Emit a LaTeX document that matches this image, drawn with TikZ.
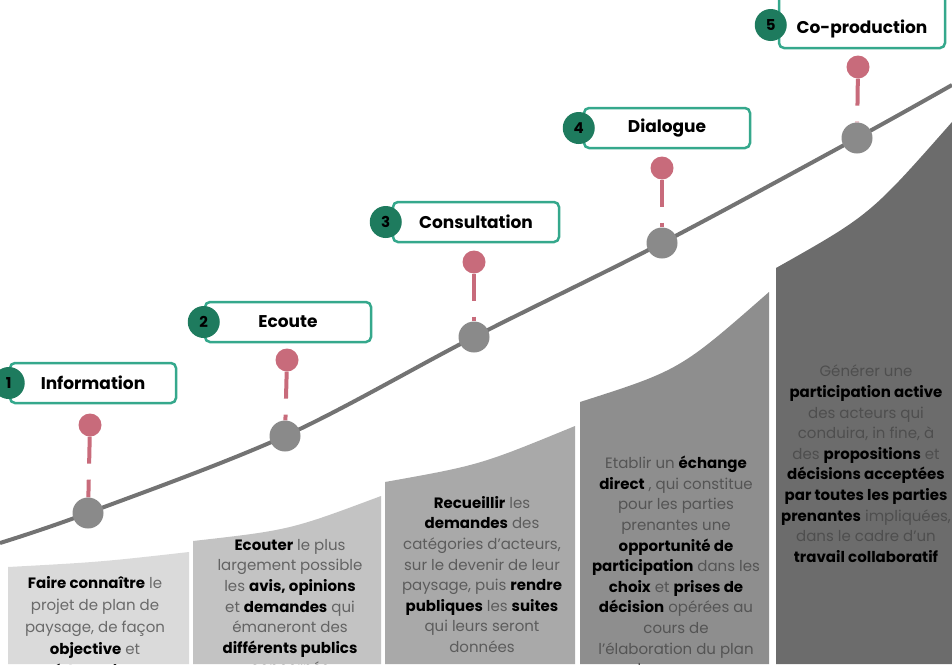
\documentclass[tikz,border=0pt]{standalone}
\usepackage{fontspec}
\setmainfont{Poppins}
\usetikzlibrary{positioning,backgrounds}
\definecolor{vert}{HTML}{1E7B5E}
\definecolor{turq}{HTML}{35A88C}
\definecolor{rose}{HTML}{C86B7B}
\definecolor{ligne}{HTML}{737373}
\definecolor{bille}{HTML}{8A8A8A}
\definecolor{fond1}{HTML}{DADADA}
\definecolor{fond2}{HTML}{C3C3C3}
\definecolor{fond3}{HTML}{A9A9A9}
\definecolor{fond4}{HTML}{8E8E8E}
\definecolor{fond5}{HTML}{6C6C6C}
\definecolor{gris1}{HTML}{6A6A6A}
\definecolor{gris2}{HTML}{636363}
\definecolor{gris3}{HTML}{5C5C5C}
\definecolor{gris4}{HTML}{545454}
\definecolor{gris5}{HTML}{4E4E4E}
\newcommand{\fort}[1]{\textbf{\color{black}#1}}

\begin{document}
\begin{tikzpicture}[x=1pt,y=-1pt,
    jalon/.style={fill=bille,circle,minimum size=31pt,inner sep=0pt},
    tete/.style={fill=rose,circle,minimum size=23pt,inner sep=0pt},
    etiq/.style={draw=turq,line width=2.5pt,fill=white,rounded corners=5pt,minimum width=166pt,minimum height=40pt,font=\fontsize{17}{20}\selectfont\bfseries},
    num/.style={fill=vert,circle,minimum size=32pt,inner sep=0pt,font=\fontsize{15}{18}\selectfont\bfseries},
    tige/.style={rose,line width=4pt,dash pattern=on 27pt off 16pt},
    txt/.style={anchor=north,align=center,inner sep=0pt,font=\fontsize{15}{20.6}\selectfont}]
  \useasboundingbox (0,0) rectangle (952,664);

  % jalons sur la courbe
  \node[jalon] (j1) at (88,513) {};
  \node[jalon] (j2) at (285,436) {};
  \node[jalon] (j3) at (474,337) {};
  \node[jalon] (j4) at (662,243) {};
  \node[jalon] (j5) at (857,138) {};
  \coordinate (debut) at (0,543);
  \coordinate (fin) at (952,85);

  \node[tete] (t1) at (90,425) {};
  \node[tete] (t2) at (287,360) {};
  \node[tete] (t3) at (474,262) {};
  \node[tete] (t4) at (662,168) {};
  \node[tete] (t5) at (858,67) {};

  % etiquettes
  \node[etiq] (e1) at (93,383) {Information};
  \node[etiq] (e2) at (288,322) {Ecoute};
  \node[etiq] (e3) at (476,222) {Consultation};
  \node[etiq] (e4) at (667,128) {Dialogue};
  \node[etiq,anchor=base,inner ysep=5pt,text height=42pt,text depth=10pt] (e5) at (862,33) {Co-production};
  \node[num] (n1) at (e1.west) {1};
  \node[num] (n2) at (e2.west) {2};
  \node[num] (n3) at ([xshift=-6pt]e3.west) {3};
  \node[num] (n4) at ([xshift=-4pt]e4.west) {4};
  \node[num] (n5) at ([xshift=-7pt]e5.west |- 0,25) {5};

  \begin{scope}[on background layer]
    \fill[fond1] (8,567) .. controls (100,562) .. (189,552) -- (189,664) -- (8,664) -- cycle;
    \fill[fond2] (193,541) .. controls (290,530) .. (381,496) -- (381,664) -- (193,664) -- cycle;
    \fill[fond3] (385,482) .. controls (480,465) .. (575,426) -- (575,664) -- (385,664) -- cycle;
    \fill[fond4] (580,402) .. controls (680,370) .. (769,292) -- (769,664) -- (580,664) -- cycle;
    \fill[fond5] (776,268) .. controls (870,215) .. (952,122) -- (952,664) -- (776,664) -- cycle;
    \draw[ligne,line width=4pt] plot[smooth,tension=0.55] coordinates {(debut) (j1) (j2) (j3) (j4) (j5) (fin)};
    \draw[tige] (t1) -- (j1);
    \draw[tige] (t2) -- (j2);
    \draw[tige] (t3) -- (j3);
    \draw[tige] (t4) -- (j4);
    \draw[tige] (t5) -- (j5);
  \end{scope}

  % textes des colonnes
  \node[txt,text=gris1,font=\fontsize{15}{22}\selectfont] (c1) at (95,576) {\fort{Faire connaître} le\\projet de plan de\\paysage, de façon\\\fort{objective} et\\\fort{pédagogique}};
  \node[txt,text=gris2] (c2) at (290,539) {\fort{Ecouter} le plus\\largement possible\\les \fort{avis, opinions}\\et \fort{demandes} qui\\émaneront des\\\fort{différents publics}\\concernés};
  \node[txt,text=gris3] (c3) at (482,496) {\fort{Recueillir} les\\\fort{demandes} des\\catégories d’acteurs,\\sur le devenir de leur\\paysage, puis \fort{rendre}\\\fort{publiques} les \fort{suites}\\qui leurs seront\\données};
  \node[txt,text=gris4] (c4) at (676,456) {Etablir un \fort{échange}\\\fort{direct} , qui constitue\\pour les parties\\prenantes une\\\fort{opportunité de}\\\fort{participation} dans les\\\fort{choix} et \fort{prises de}\\\fort{décision} opérées au\\cours de\\l’élaboration du plan\\de paysage};
  \node[txt,text=gris5] (c5) at (866,365) {Générer une\\\fort{participation active}\\des acteurs qui\\conduira, in fine, à\\des \fort{propositions} et\\\fort{décisions acceptées}\\\fort{par toutes les parties}\\\fort{prenantes} impliquées,\\dans le cadre d’un\\\fort{travail collaboratif}};
\end{tikzpicture}
\end{document}
